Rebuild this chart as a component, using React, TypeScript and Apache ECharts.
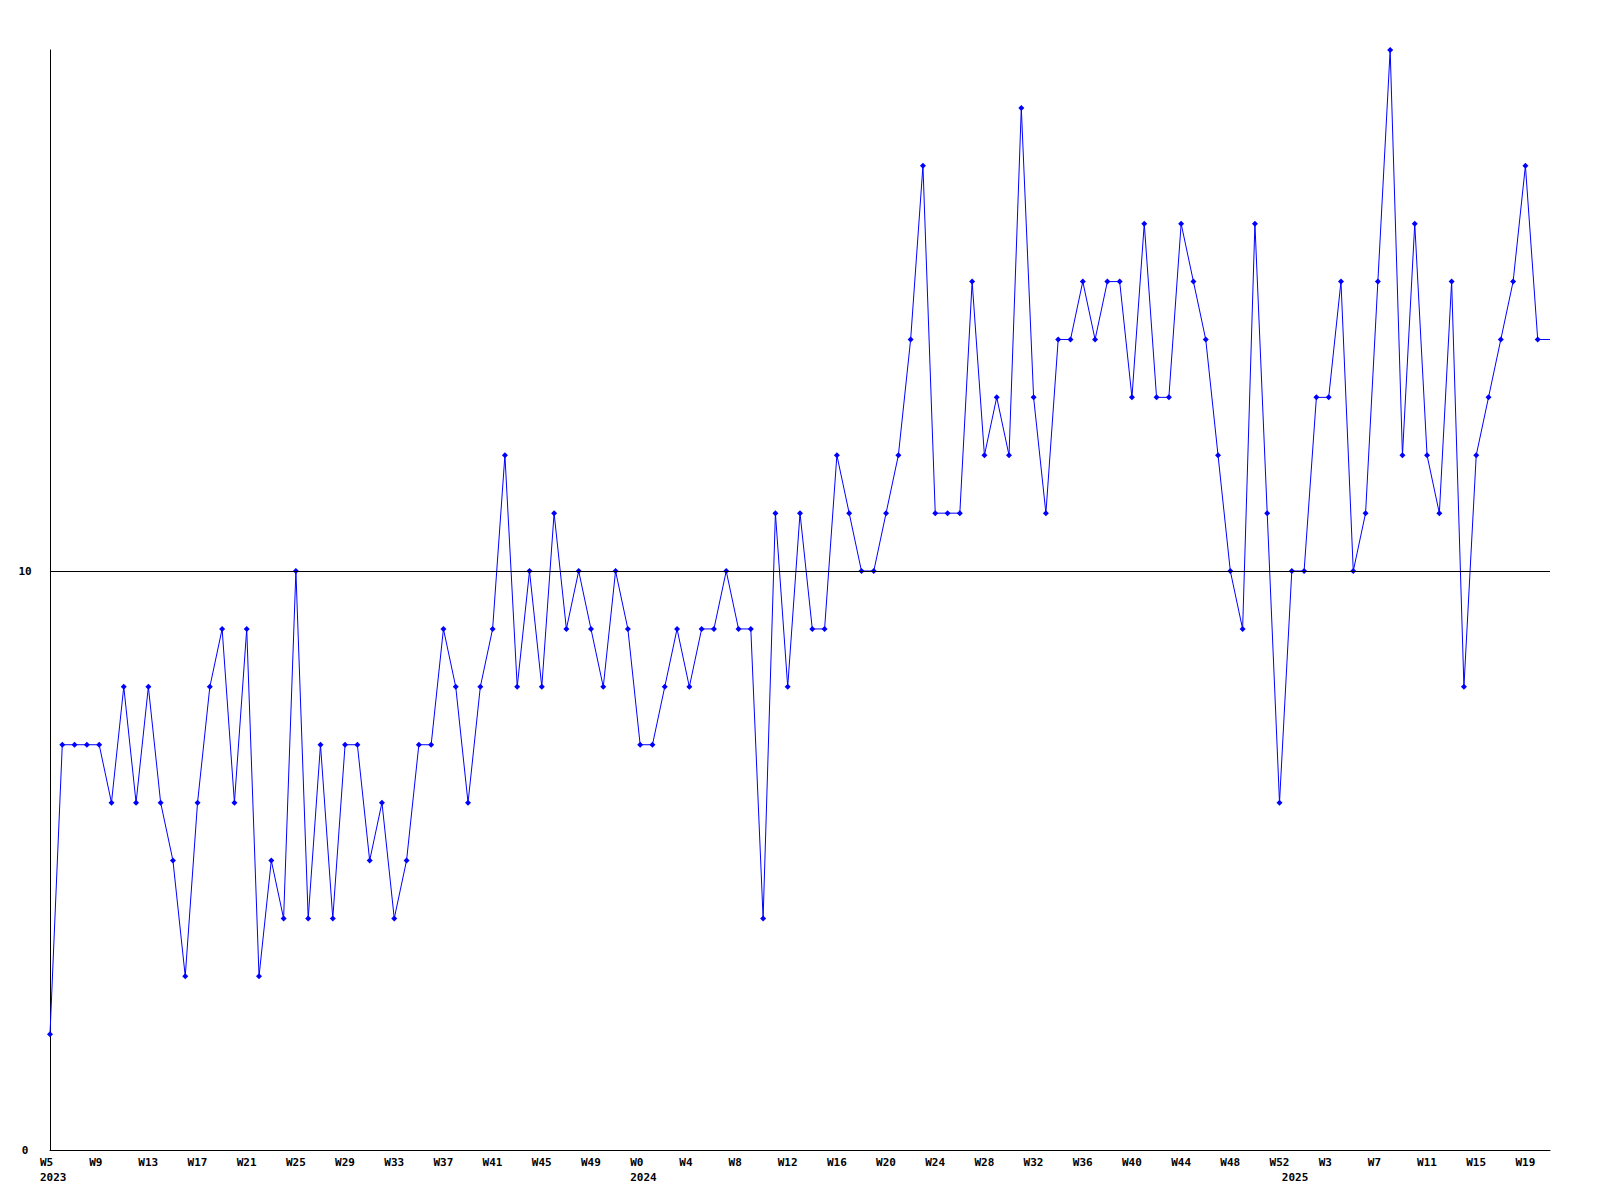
import React, { useEffect, useRef } from "react";
import * as echarts from "echarts";

// Week ranges per year: [year, firstWeek, lastWeek]
const yearRanges: [number, number, number][] = [
  [2023, 5, 52],
  [2024, 0, 52],
  [2025, 0, 21],
];

const values2023 = [
  2, 7, 7, 7, 7, 6, 8, 6, 8, 6, 5, 3, 6, 8, 9, 6, 9, 3, 5, 4, 10, 4, 7, 4, 7, 7,
  5, 6, 4, 5, 7, 7, 9, 8, 6, 8, 9, 12, 8, 10, 8, 11, 9, 10, 9, 8, 10, 9,
];
const values2024 = [
  7, 7, 8, 9, 8, 9, 9, 10, 9, 9, 4, 11, 8, 11, 9, 9, 12, 11, 10, 10, 11, 12, 14,
  17, 11, 11, 11, 15, 12, 13, 12, 18, 13, 11, 14, 14, 15, 14, 15, 15, 13, 16, 13,
  13, 16, 15, 14, 12, 10, 9, 16, 11, 6,
];
const values2025 = [
  10, 10, 13, 13, 15, 10, 11, 15, 19, 12, 16, 12, 11, 15, 8, 12, 13, 14, 15, 17,
  14, 14,
];

const yMin = 0;
const yMax = 19;
const yLabelValues = [0, 10];
const referenceLine = 10;

const weekLabels: string[] = [];
const yearLabels: string[] = [];
const yearStartIdx = new Set<number>();
yearRanges.forEach(([y, a, b]) => {
  yearStartIdx.add(weekLabels.length);
  for (let w = a; w <= b; w++) {
    weekLabels.push("W" + w);
    yearLabels.push(String(y));
  }
});
const values = [...values2023, ...values2024, ...values2025];

const FONT = "DejaVu Sans Mono";

export default function App() {
  const ref = useRef<HTMLDivElement>(null);
  useEffect(() => {
    if (!ref.current) return;
    const chart = echarts.init(ref.current, undefined, { renderer: "svg" });
    const lastIdx = values.length - 1;
    chart.setOption({
      animation: false,
      backgroundColor: "#ffffff",
      grid: { left: 50, right: 50, top: 50, bottom: 50, containLabel: false },
      xAxis: [
        {
          type: "category",
          data: weekLabels,
          boundaryGap: false,
          position: "bottom",
          axisLine: { show: true, lineStyle: { color: "#000", width: 1 } },
          axisTick: { show: false },
          splitLine: { show: false },
          axisLabel: {
            interval: (i: number) => i % 4 === 0,
            align: "left",
            padding: [0, 0, 0, -10],
            margin: 7,
            fontFamily: FONT,
            fontWeight: "bold",
            fontSize: 11,
            color: "#000",
          },
        },
        {
          type: "category",
          data: yearLabels,
          boundaryGap: false,
          position: "bottom",
          axisLine: { show: false },
          axisTick: { show: false },
          splitLine: { show: false },
          axisLabel: {
            interval: (i: number) => yearStartIdx.has(i),
            align: "left",
            padding: [0, 0, 0, -10],
            margin: 22,
            fontFamily: FONT,
            fontWeight: "bold",
            fontSize: 11,
            color: "#000",
          },
        },
      ],
      yAxis: {
        type: "value",
        min: yMin,
        max: yMax,
        interval: 10,
        axisLine: { show: true, lineStyle: { color: "#000", width: 1 } },
        axisTick: { show: false },
        splitLine: { show: false },
        axisLabel: {
          formatter: (v: number) => (yLabelValues.includes(v) ? String(v) : ""),
          align: "center",
          margin: 25,
          fontFamily: FONT,
          fontWeight: "bold",
          fontSize: 11,
          color: "#000",
        },
      },
      series: [
        {
          type: "line",
          xAxisIndex: 0,
          data: values.map((v, i) =>
            i === lastIdx ? { value: v, symbol: "none" } : v
          ),
          symbol: "diamond",
          symbolSize: 6,
          showAllSymbol: true,
          lineStyle: { color: "#0000ff", width: 1 },
          itemStyle: { color: "#0000ff" },
          markLine: {
            silent: true,
            symbol: "none",
            label: { show: false },
            lineStyle: { color: "#000", width: 1, type: "solid" },
            data: [{ yAxis: referenceLine }],
          },
        },
      ],
    });
    return () => chart.dispose();
  }, []);
  return (
    <div
      ref={ref}
      style={{ position: "fixed", left: 0, top: 0, width: 1600, height: 1200 }}
    />
  );
}
